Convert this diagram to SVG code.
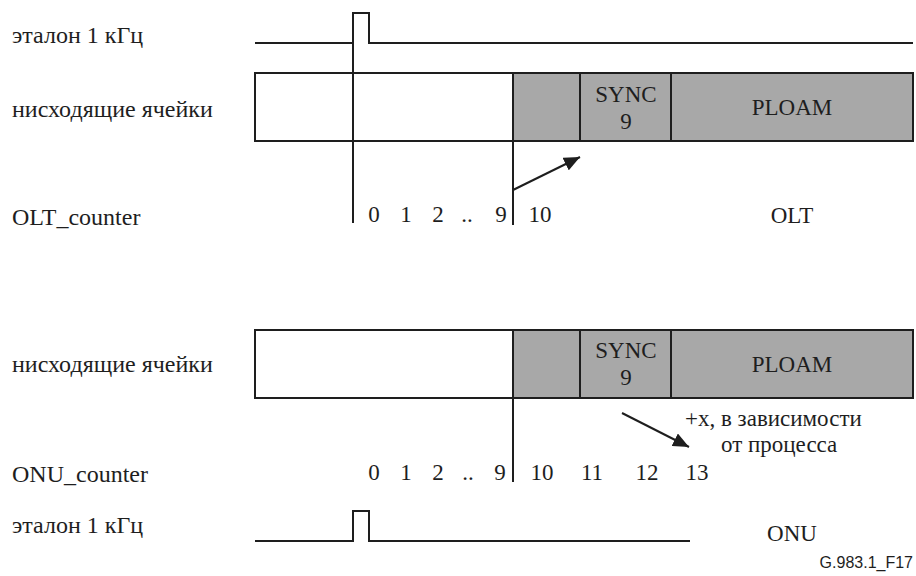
<svg xmlns="http://www.w3.org/2000/svg" width="916" height="576" viewBox="0 0 916 576">
<style>
  .ln{fill:none;stroke:#1e1e1e;stroke-width:2}
  .box{stroke:#1e1e1e;stroke-width:2}
  .w{fill:#ffffff}
  .g{fill:#a8a8a8}
  text{font-family:"Liberation Serif","Times New Roman",serif;font-size:23px;fill:#1e1e1e}
  .lab{font-size:24px}
  .c{text-anchor:middle}
  .ref{font-family:"Liberation Sans",Arial,sans-serif;font-size:16px;text-anchor:end}
</style>
<defs>
  <marker id="ah" markerUnits="userSpaceOnUse" markerWidth="18" markerHeight="14" refX="16" refY="7" orient="auto">
    <path d="M0,0 L16,7 L0,14 Z" fill="#1e1e1e"/>
  </marker>
</defs>
<rect width="916" height="576" fill="#ffffff"/>

<g id="labels">
  <text class="lab" x="12" y="43">эталон 1 кГц</text>
  <text class="lab" x="12" y="117">нисходящие ячейки</text>
  <text class="lab" x="12" y="225">OLT_counter</text>
  <text class="lab" x="12" y="372">нисходящие ячейки</text>
  <text class="lab" x="12" y="482">ONU_counter</text>
  <text class="lab" x="12" y="533">эталон 1 кГц</text>
</g>

<g id="olt_ref">
  <path class="ln" d="M255,43 H353 V13 H369 V43 H913"/>
</g>

<g id="olt_cells">
  <rect class="box w" x="255" y="73" width="258" height="68"/>
  <rect class="box g" x="513" y="73" width="67" height="68"/>
  <rect class="box g" x="580" y="73" width="91" height="68"/>
  <rect class="box g" x="671" y="73" width="242" height="68"/>
  <text class="c" x="626" y="102">SYNC</text>
  <text class="c" x="626" y="129">9</text>
  <text class="c" x="792" y="115">PLOAM</text>
</g>

<g id="olt_counter">
  <text class="c" x="374" y="222">0</text>
  <text class="c" x="406" y="222">1</text>
  <text class="c" x="438" y="222">2</text>
  <text class="c" x="467" y="222">..</text>
  <text class="c" x="501" y="222">9</text>
  <text class="c" x="540" y="222">10</text>
  <text class="c" x="792" y="223">OLT</text>
</g>

<g id="onu_cells">
  <rect class="box w" x="255" y="330" width="258" height="68"/>
  <rect class="box g" x="513" y="330" width="67" height="68"/>
  <rect class="box g" x="580" y="330" width="91" height="68"/>
  <rect class="box g" x="671" y="330" width="242" height="68"/>
  <text class="c" x="626" y="358">SYNC</text>
  <text class="c" x="626" y="385">9</text>
  <text class="c" x="792" y="372">PLOAM</text>
</g>

<g id="onu_counter">
  <text class="c" x="374" y="480">0</text>
  <text class="c" x="406" y="480">1</text>
  <text class="c" x="438" y="480">2</text>
  <text class="c" x="468" y="480">..</text>
  <text class="c" x="500" y="480">9</text>
  <text class="c" x="542" y="480">10</text>
  <text class="c" x="592" y="480">11</text>
  <text class="c" x="647" y="480">12</text>
  <text class="c" x="697" y="480">13</text>
  <text x="685" y="426">+x, в зависимости</text>
  <text x="721" y="452">от процесса</text>
</g>

<g id="onu_ref">
  <path class="ln" d="M255,541 H353 V511 H369 V541 H690"/>
  <text class="c" x="792" y="541">ONU</text>
</g>

<g id="connectors">
  <line class="ln" x1="353" y1="43" x2="353" y2="223"/>
  <line class="ln" x1="513" y1="141" x2="513" y2="225"/>
  <line class="ln" x1="513" y1="190" x2="580" y2="157" marker-end="url(#ah)"/>
  <line class="ln" x1="513" y1="398" x2="513" y2="482"/>
  <line class="ln" x1="622" y1="413" x2="689" y2="447" marker-end="url(#ah)"/>
</g>

<text class="ref" x="913" y="568">G.983.1_F17</text>
</svg>
